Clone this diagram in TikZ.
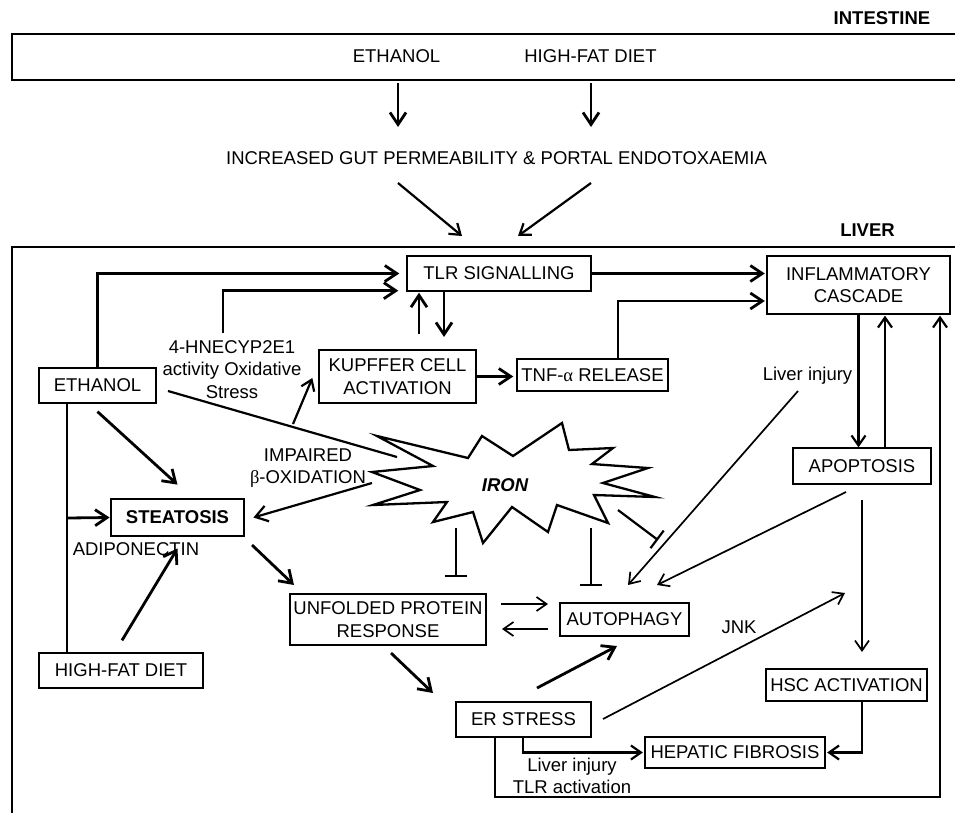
\documentclass[tikz,border=0pt]{standalone}
\usepackage{fontspec}
\setmainfont{Liberation Sans}
\newfontfamily\greekserif{Liberation Serif}
\usetikzlibrary{arrows.meta,calc}
\newcommand{\mydiagfont}{\fontsize{18.5}{22.5}\selectfont}
\begin{document}
\begin{tikzpicture}[x=1pt,y=-1pt,
  every node/.style={font=\mydiagfont, inner sep=0pt},
  box/.style={draw, line width=1.3pt, align=center},
  tbox/.style={draw, line width=2.8pt, align=center},
  lbl/.style={align=center},
  boldlbl/.style={font=\mydiagfont\bfseries},
  arr/.style={-{Straight Barb[length=10pt,width=14pt]}},
  barr/.style={-{Straight Barb[length=12pt,width=16pt]}},
  thk/.style={line width=2.8pt},
  med/.style={line width=2.2pt},
  thn/.style={line width=1.7pt},
  inh/.style={-{Bar[width=22pt]}},
  starline/.style={line width=2.3pt, line join=miter}
]
\useasboundingbox (0,0) rectangle (955,812);

% ---------------- intestine ----------------
\node[boldlbl] (intlbl) at (882,18) {INTESTINE};
\draw[line width=2.1pt] (975,34) -- (12,34) -- (12,80) -- (975,80);
\node (ethtop) at (396.5,56) {ETHANOL};
\node (hfdtop) at (590.5,56) {HIGH-FAT DIET};
\node (gut) at (496.5,158) {INCREASED GUT PERMEABILITY \& PORTAL ENDOTOXAEMIA};

\coordinate (t1a) at (398,83);  \coordinate (t1b) at (398,127);
\coordinate (t2a) at (591,83);  \coordinate (t2b) at (591,127);
\coordinate (d1a) at (398,183); \coordinate (d1b) at (462,236);
\coordinate (d2a) at (591,183); \coordinate (d2b) at (518,236);
\draw[thk,barr] (t1a) -- (t1b);
\draw[thk,barr] (t2a) -- (t2b);
\draw[med,arr] (d1a) -- (d1b);
\draw[med,arr] (d2a) -- (d2b);

% ---------------- liver ----------------
\node[boldlbl] (liverlbl) at (867.5,230) {LIVER};
\draw[line width=2.6pt] (12,830) -- (12,247) -- (975,247);

\node[box, minimum width=184pt, minimum height=35pt] (tlr) at (499,273.5) {TLR SIGNALLING};
\node[box, minimum width=183pt, minimum height=58pt] (infl) at (858.5,285) {INFLAMMATORY\\CASCADE};
\node[box, minimum width=157pt, minimum height=53pt] (kup) at (397.5,376.5) {KUPFFER CELL\\ACTIVATION};
\node[box, minimum width=151pt, minimum height=32pt] (tnf) at (592.5,375) {TNF-{\greekserif α} RELEASE};
\node[box, minimum width=117pt, minimum height=35pt] (eth) at (97.5,385.5) {ETHANOL};
\node[lbl] (hne) at (232,369.5) {4-HNECYP2E1\\activity Oxidative\\Stress};
\node[tbox, font=\mydiagfont\bfseries, minimum width=133pt, minimum height=37pt] (steat) at (177.5,517.5) {STEATOSIS};
\node (adipo) at (136,549) {ADIPONECTIN};
\node[box, minimum width=164pt, minimum height=35pt] (hfd) at (121,670.5) {HIGH-FAT DIET};
\node[lbl] (impair) at (308,468) {IMPAIRED\\{\greekserif β}-OXIDATION};
\node[box, minimum width=196pt, minimum height=51pt] (upr) at (388,619.5) {UNFOLDED PROTEIN\\RESPONSE};
\node[tbox, minimum width=129pt, minimum height=33pt] (auto) at (624.5,619.5) {AUTOPHAGY};
\node[tbox, minimum width=135pt, minimum height=35pt] (er) at (523.5,719.5) {ER STRESS};
\node (jnk) at (739,627) {JNK};
\node[box, minimum width=180pt, minimum height=31pt] (hep) at (735,752.5) {HEPATIC FIBROSIS};
\node[box, minimum width=161pt, minimum height=32pt] (hsc) at (846.5,685) {HSC ACTIVATION};
\node[box, minimum width=138pt, minimum height=36pt] (apo) at (862,466) {APOPTOSIS};
\node[anchor=base] (inj1) at (807.5,380.5) {Liver injury};
\node[lbl] (inj2) at (572,776) {Liver injury\\TLR activation};

% IRON star
\draw[starline] (377,436) -- (468,458) -- (482,436) -- (513,456) -- (562,423) -- (569,450)
  -- (613,448) -- (592,464) -- (648,468) -- (603,483) -- (655,497) -- (594,495)
  -- (608,523) -- (557,505) -- (548,532) -- (512,507) -- (483,543) -- (473,512)
  -- (433,522) -- (447,502) -- (373,505) -- (420,490) -- (372,472) -- (433,466) -- cycle;
\node[font=\mydiagfont\bfseries\itshape] (iron) at (505,485) {IRON};

% named free ends
\coordinate (hneTop) at (223,333);
\coordinate (k1) at (419,334);
\coordinate (k2) at (444,337);
\coordinate (e1) at (168,391);
\coordinate (e2) at (397,457);
\coordinate (e3) at (293,424);
\coordinate (v1) at (67,403);
\coordinate (v2) at (67,653);
\coordinate (vb) at (67,518);
\coordinate (bo) at (372,483);
\coordinate (st1) at (252,545);
\coordinate (up1) at (294,585);
\coordinate (i1a) at (456,528); \coordinate (i1b) at (456,577);
\coordinate (i2a) at (591,528); \coordinate (i2b) at (591,586);
\coordinate (i3a) at (618,510); \coordinate (i3b) at (658,540);
\coordinate (ua1) at (501,604); \coordinate (ua2) at (548,604);
\coordinate (au1) at (548,629); \coordinate (au2) at (502,629);
\coordinate (ue1) at (391,653); \coordinate (ue2) at (433,693);
\coordinate (ea1) at (537,688); \coordinate (ea2) at (617,646);
\coordinate (ej1) at (603,719); \coordinate (ej2) at (845,593);
\coordinate (eh1) at (523,737);
\coordinate (ei1) at (495,737); \coordinate (ei2) at (940,797);
\coordinate (ah1) at (862,500); \coordinate (ah2) at (862,652);
\coordinate (aa1) at (846,492); \coordinate (aa2) at (657,585);
\coordinate (li1) at (798,391); \coordinate (li2) at (628,585);

% connectors
\draw[thk,barr] (eth.north) |- ($(tlr.west)+(-7,0)$);
\draw[thk,barr] (hneTop) |- ($(tlr.south west)+(-8,-1)$);
\draw[thk,barr,shorten >=1.5pt] (tlr.east) -- (tlr.east -| infl.west);
\draw[thk,barr,shorten >=1.5pt] ([xshift=25.5pt]tnf.north) |- ($(infl.west)+(0,16)$);
\draw[thk,barr] (k1) -- ($(k1 |- tlr.south)+(0,1)$);
\draw[thk,barr] ($(k2 |- tlr.south)+(0,0.5)$) -- (k2);
\draw[thk,barr,shorten >=3pt] (kup.east) -- (kup.east -| tnf.west);
\draw[med] (e1) -- (e2);
\draw[med,arr] (e3) -- ($(kup.west)+(-6,1.5)$);
\draw[thk,barr] ([yshift=-8pt]eth.south) -- ($(steat.north)+(0,-13)$);
\draw[thk] (v1) -- (v2);
\draw[thk,barr] (vb) -- (steat.west);
\draw[thk,barr] ($(hfd.north)+(1,-12)$) -- ($(steat.south)+(0,11)$);
\draw[med,barr] (bo) -- ($(steat.east)+(8,0)$);
\draw[thk,barr] (st1) -- (up1);
\draw[med,inh] (i1a) -- (i1b);
\draw[med,inh] (i2a) -- (i2b);
\draw[med,inh] (i3a) -- (i3b);
\draw[thn,arr] (ua1) -- (ua2);
\draw[thn,arr] (au1) -- (au2);
\draw[thk,barr] (ue1) -- (ue2);
\draw[thk,barr] (ea1) -- (ea2);
\draw[thn,arr] (ej1) -- (ej2);
\draw[med,arr,shorten >=1.5pt] (eh1) |- (hep.west);
\draw[med,arr] (ei1) |- (ei2) -- ($(ei2 |- infl.south)+(0,1)$);
\draw[med,arr,shorten >=1.5pt] ([xshift=15.5pt]hsc.south) |- (hep.east);
\draw[thn,arr] (ah1) -- (ah2);
\draw[med,arr] (infl.south) -- (infl.south |- apo.north);
\draw[med,arr] ([xshift=23pt]apo.north) -- ($([xshift=23pt]apo.north |- infl.south)+(0,1)$);
\draw[thn,arr] (aa1) -- (aa2);
\draw[thn,arr] (li1) -- (li2);
\end{tikzpicture}
\end{document}
